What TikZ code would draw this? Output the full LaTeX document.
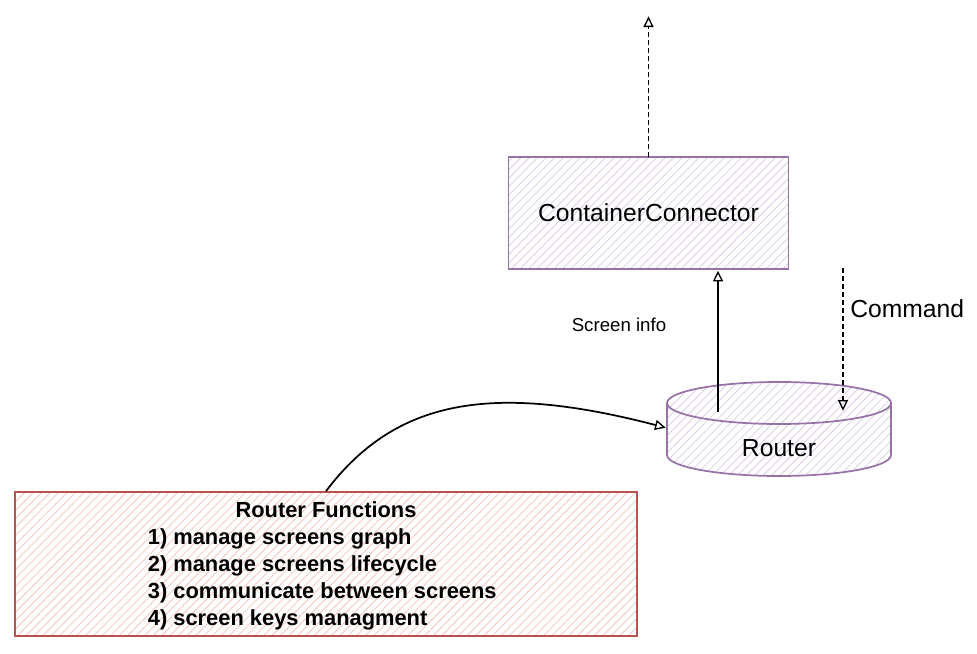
\documentclass[tikz,border=0pt]{standalone}
\usepackage{fontspec}
\setmainfont{Liberation Sans}
\usetikzlibrary{arrows.meta,patterns.meta}
\definecolor{ccline}{HTML}{9673A6}
\definecolor{cchatch}{HTML}{DCCDE3}
\definecolor{rfline}{HTML}{B85450}
\definecolor{rfhatch}{HTML}{F5C4C2}
\begin{document}
\begin{tikzpicture}[
	x = 0.75pt, y = -0.75pt, % work on the pixel grid
	> = {Triangle[open,length=8pt,width=7.5pt,line width=1pt]}, % arrow head style
	line width = 1.3pt, % line style
	font = \fontsize{18.5}{22}\selectfont
	]
	
	\tikzset{
	hatch/.style = {pattern = {Lines[angle=45,distance=4.5pt,line width=0.6pt]}},
	ccbox/.style = {draw = ccline, hatch, pattern color = cchatch,
		minimum width = 210pt, minimum height = 84pt},
	funcbox/.style = {draw = rfline, hatch, pattern color = rfhatch,
		minimum width = 466pt, minimum height = 108pt},
	funcfont/.style = {font = \bfseries\fontsize{16.4}{20.25}\selectfont},
	flow/.style = {->, shorten > = 1pt},
	cmd/.style = {flow, dash pattern = on 3.5pt off 2.5pt}
	}
	
	\useasboundingbox (0,0) rectangle (977,653);
	
	\node[ccbox] (cc) at (648.5,213) {ContainerConnector};
	\coordinate (ccout) at (648.5,15);
	
	% router drawn as a cylinder
	\path[draw = ccline, hatch, pattern color = cchatch]
	(667,403) -- (667,455)
	arc[start angle=180, end angle=360, x radius=84pt, y radius=15.75pt]
	-- (891,403)
	arc[start angle=0, end angle=180, x radius=84pt, y radius=15.75pt] -- cycle;
	\draw[ccline] (667,403) arc[start angle=180, end angle=360, x radius=84pt, y radius=15.75pt];
	\node (router) at (779,448) {Router};
	\coordinate (rout) at (718,412);
	\coordinate (rcmd) at (843,412);
	\coordinate (rin) at (667,428);
	\coordinate (cmdtop) at (843,268);
	
	\node[funcbox] (rf) at (326,564) {};
	\node[funcfont] (rftitle) at (326,510) {Router Functions};
	\node[funcfont, align=left, anchor=west, inner sep=0pt] (rflist) at (147,579)
	{1) manage screens graph\\2) manage screens lifecycle\\3) communicate between screens\\4) screen keys managment};
	
	\node[font=\fontsize{14}{17}\selectfont] (info) at (619,325) {Screen info};
	\node[anchor=west] (command) at (845,309) {Command};
	
	\draw[cmd] (cc.north) -- (ccout);
	\draw[flow] (rout) -- (rout |- cc.south);
	\draw[cmd] (cmdtop) -- (rcmd);
	\draw[flow] (rf.north) .. controls (395,400) and (490,382) .. (rin);
	
\end{tikzpicture}
\end{document}
